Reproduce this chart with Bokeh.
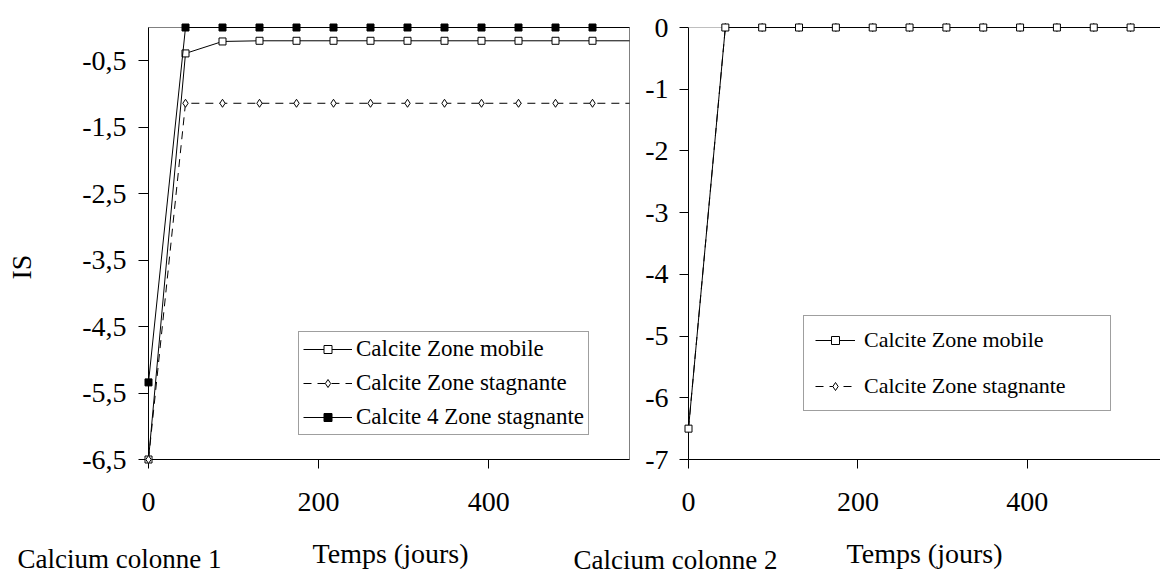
import math
from bokeh.plotting import figure
from bokeh.models import Range1d, FixedTicker, Legend, LegendItem, Span
from bokeh.layouts import column, row
from bokeh.embed import file_html
from bokeh.resources import INLINE
from bokeh.core.properties import value

FONT = "Liberation Serif"

# ---- data ----
temps = [0, 43.5, 87, 130.5, 174, 217.5, 261, 304.5, 348, 391.5, 435, 478.5, 522, 565.5]
c1_mobile = [-6.5, -0.39, -0.21, -0.2, -0.2, -0.2, -0.2, -0.2, -0.2, -0.2, -0.2, -0.2, -0.2, -0.2]
c1_stagnante = [-6.5, -1.14, -1.14, -1.14, -1.14, -1.14, -1.14, -1.14, -1.14, -1.14, -1.14, -1.14, -1.14, -1.14]
c1_calcite4 = [-5.34, 0, 0, 0, 0, 0, 0, 0, 0, 0, 0, 0, 0, 0]
c2_mobile = [-6.5, 0, 0, 0, 0, 0, 0, 0, 0, 0, 0, 0, 0, 0]
c2_stagnante = [-6.5, 0, 0, 0, 0, 0, 0, 0, 0, 0, 0, 0, 0, 0]

series_names = ["Calcite Zone mobile", "Calcite Zone stagnante", "Calcite 4 Zone stagnante"]
x_ticks = [0, 200, 400]
y1_ticks = [-6.5, -5.5, -4.5, -3.5, -2.5, -1.5, -0.5]
y1_labels = ["-6,5", "-5,5", "-4,5", "-3,5", "-2,5", "-1,5", "-0,5"]
y2_ticks = [-7, -6, -5, -4, -3, -2, -1, 0]
y2_labels = ["-7", "-6", "-5", "-4", "-3", "-2", "-1", "0"]
y_label = "IS"
x_label = "Temps (jours)"
captions = ["Calcium colonne 1", "Calcium colonne 2"]


def blank(width, height):
    f = figure(width=width, height=height, x_range=Range1d(0, width), y_range=Range1d(0, height),
               output_backend="svg", toolbar_location=None,
               x_axis_location=None, y_axis_location=None,
               min_border=0, min_border_left=0, min_border_right=0,
               min_border_top=0, min_border_bottom=0)
    f.outline_line_color = None
    f.xgrid.visible = False
    f.ygrid.visible = False
    return f


def style(p, yt, yl, ytick_out, ystandoff):
    p.xgrid.visible = False
    p.ygrid.visible = False
    p.background_fill_color = "white"
    p.border_fill_color = "white"
    for ax in (p.xaxis[0], p.yaxis[0]):
        ax.axis_line_color = "black"
        ax.axis_line_width = 1
        ax.major_tick_line_color = "black"
        ax.major_tick_in = 0
        ax.minor_tick_line_color = None
        ax.major_label_text_font = FONT
        ax.major_label_text_font_size = "28px"
        ax.major_label_text_color = "black"
    p.xaxis[0].ticker = FixedTicker(ticks=x_ticks)
    p.xaxis[0].major_tick_out = 9
    p.xaxis[0].major_label_standoff = 24
    p.yaxis[0].ticker = FixedTicker(ticks=yt)
    p.yaxis[0].major_label_overrides = {t: l for t, l in zip(yt, yl)}
    p.yaxis[0].major_tick_out = ytick_out
    p.yaxis[0].major_label_standoff = ystandoff


def draw(p, x, y, dashed, marker, fill):
    dash = "8 6" if dashed else "solid"
    lr = p.line(x, y, line_color="black", line_width=1, line_dash=dash, level="overlay")
    sr = p.scatter(x[:-1], y[:-1], marker=marker, size=7 if marker == "square" else 8,
                   line_color="black", line_width=1, fill_color=fill, level="overlay")
    return [lr, sr]


# ---- y-axis title column ----
ylab = blank(40, 530)
ylab.text(x=[21], y=[236], text=[y_label], angle=math.pi / 2, text_font=value(FONT),
          text_font_size="28px", text_align="center", text_baseline="middle",
          text_color="black")

# ---- left chart ----
pL = figure(width=600, height=530, x_range=Range1d(0, 565.5), y_range=Range1d(-6.5, 0),
            output_backend="svg", toolbar_location=None,
            min_border_left=108, min_border_right=11, min_border_top=27, min_border_bottom=70)
style(pL, y1_ticks, y1_labels, 10, 12)
pL.outline_line_color = "#808080"
pL.outline_line_width = 1

r1 = draw(pL, temps, c1_mobile, False, "square", "white")
r2 = draw(pL, temps, c1_stagnante, True, "diamond", "white")
r3 = draw(pL, temps, c1_calcite4, False, "square", "black")

legL = Legend(items=[LegendItem(label=series_names[0], renderers=r1),
                     LegendItem(label=series_names[1], renderers=r2),
                     LegendItem(label=series_names[2], renderers=r3)],
              location=(150, 24))
legL.border_line_color = "#404040"
legL.border_line_width = 1
legL.background_fill_color = "white"
legL.background_fill_alpha = 1
legL.label_text_font = FONT
legL.label_text_font_size = "23px"
legL.label_text_color = "black"
legL.glyph_width = 49
legL.glyph_height = 20
legL.label_height = 20
legL.label_standoff = 4
legL.spacing = 8
legL.padding = 4
legL.margin = 0
pL.add_layout(legL)

# ---- right chart ----
pR = figure(width=520, height=530, x_range=Range1d(0, 557.3), y_range=Range1d(-7, 0),
            output_backend="svg", toolbar_location=None,
            min_border_left=48, min_border_right=0, min_border_top=22, min_border_bottom=71)
style(pR, y2_ticks, y2_labels, 9, 11)
pR.outline_line_color = None
pR.add_layout(Span(location=0, dimension="width", line_color="#808080", line_width=1))

q2 = draw(pR, temps, c2_stagnante, True, "diamond", "white")
q1 = draw(pR, temps, c2_mobile, False, "square", "white")

legR = Legend(items=[LegendItem(label=series_names[0], renderers=q1),
                     LegendItem(label=series_names[1], renderers=q2)],
              location=(115, 48))
legR.border_line_color = "#404040"
legR.border_line_width = 1
legR.background_fill_color = "white"
legR.background_fill_alpha = 1
legR.label_text_font = FONT
legR.label_text_font_size = "22px"
legR.label_text_color = "black"
legR.glyph_width = 40
legR.glyph_height = 20
legR.label_height = 20
legR.label_standoff = 9
legR.spacing = 20
legR.padding = 11
legR.margin = 0
legR.label_width = 235
pR.add_layout(legR)

# ---- caption strip ----
strip = blank(1160, 44)
strip.text(x=[390, 924], y=[21, 21], text=[x_label, x_label], text_font=value(FONT),
           text_font_size="28px", text_align="center", text_baseline="alphabetic",
           text_color="black")
strip.text(x=[17, 573], y=[16, 15], text=captions, text_font=value(FONT),
           text_font_size="27px", text_align="left", text_baseline="alphabetic",
           text_color="black")

layout = column(row(ylab, pL, pR, spacing=0), strip, spacing=0)
open("out.html", "w").write(file_html(layout, INLINE))
